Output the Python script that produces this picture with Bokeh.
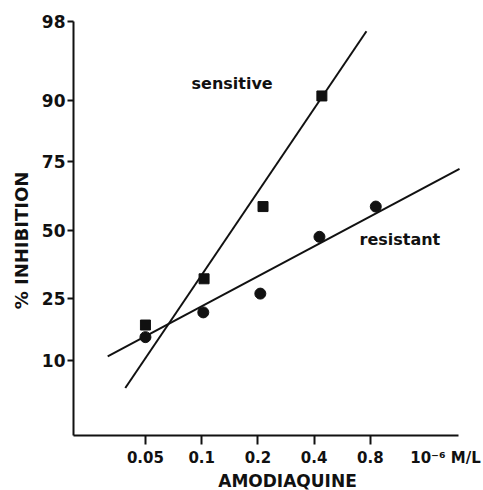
import math
from statistics import NormalDist
from bokeh.plotting import figure
from bokeh.models import FixedTicker, Range1d, Label
from bokeh.embed import file_html
from bokeh.resources import INLINE

# ---- data ----
dose_ticks = [0.05, 0.1, 0.2, 0.4, 0.8]
dose_tick_labels = ["0.05", "0.1", "0.2", "0.4", "0.8"]
pct_ticks = [10, 25, 50, 75, 90, 98]
pct_tick_labels = ["10", "25", "50", "75", "90", "98"]

sens_dose = [0.05, 0.103, 0.213, 0.44]
sens_pct = [17.5, 31.6, 59.2, 90.7]
res_dose = [0.05, 0.102, 0.206, 0.427, 0.855]
res_pct = [14.6, 20.9, 26.6, 47.4, 59.2]

sens_fit_dose = [0.039, 0.762]
sens_fit_pct = [6.0, 97.5]
res_fit_dose = [0.0314, 2.40]
res_fit_pct = [10.7, 72.7]

# ---- probit transform for the y scale ----
_nd = NormalDist()
def probit(p):
    return _nd.inv_cdf(p / 100.0)

# axis box: dose X0..X1, probit Y0..Y1
X0, X1 = 0.0206, 2.37
Y0, Y1 = -2.023, 2.066

# picture pixels of the axis box
FL, FR, FT, FB = 73, 458, 20, 435
W, H = 483, 490

def dx(px):
    return 10 ** (math.log10(X0) + (px - FL) / (FR - FL) * (math.log10(X1) - math.log10(X0)))

def dy(py):
    return Y1 - (py - FT) / (FB - FT) * (Y1 - Y0)

p = figure(width=W, height=H, x_axis_type="log",
           x_range=Range1d(dx(0), dx(W)), y_range=Range1d(dy(H), dy(0)),
           output_backend="svg", toolbar_location=None,
           min_border_left=0, min_border_right=0,
           min_border_top=0, min_border_bottom=0)
p.outline_line_color = None
p.xgrid.visible = False
p.ygrid.visible = False
p.background_fill_color = "white"
p.border_fill_color = "white"

ink = "#111111"
FONT = "DejaVu Sans"

# x axis
p.xaxis.ticker = FixedTicker(ticks=dose_ticks)
p.xaxis.major_label_overrides = dict(zip(dose_ticks, dose_tick_labels))
p.xaxis.minor_tick_line_color = None
p.xaxis.major_tick_out = 9
p.xaxis.major_tick_in = 0
p.xaxis.major_label_standoff = 6
p.xaxis.major_label_text_font_size = "15px"
p.xaxis.fixed_location = Y0
p.xaxis.bounds = (X0, X1)

# y axis
yt = [probit(v) for v in pct_ticks]
p.yaxis.ticker = FixedTicker(ticks=yt)
p.yaxis.major_label_overrides = dict(zip(yt, pct_tick_labels))
p.yaxis.minor_tick_line_color = None
p.yaxis.major_tick_out = 6
p.yaxis.major_tick_in = 0
p.yaxis.major_label_standoff = 2
p.yaxis.major_label_text_font_size = "17px"
p.yaxis.fixed_location = X0
p.yaxis.bounds = (Y0, probit(98))

for ax in (p.xaxis, p.yaxis):
    ax.axis_line_width = 2
    ax.axis_line_color = ink
    ax.major_tick_line_width = 2
    ax.major_tick_line_color = ink
    ax.major_label_text_font = FONT
    ax.major_label_text_font_style = "bold"
    ax.major_label_text_color = ink

# fitted lines
p.line(sens_fit_dose, [probit(v) for v in sens_fit_pct], line_color=ink, line_width=2)
p.line(res_fit_dose, [probit(v) for v in res_fit_pct], line_color=ink, line_width=2)

# points
p.scatter(sens_dose, [probit(v) for v in sens_pct], marker="square", size=10,
          fill_color=ink, line_color=ink)
p.scatter(res_dose, [probit(v) for v in res_pct], marker="circle", size=11,
          fill_color=ink, line_color=ink)

def lab(text, px, py, size, align="left", baseline="alphabetic", angle=0.0):
    p.add_layout(Label(x=dx(px), y=dy(py), text=text, text_font=FONT,
                       text_font_style="bold", text_font_size=size,
                       text_color=ink, text_align=align,
                       text_baseline=baseline, angle=angle))

lab("sensitive", 191, 83, "16px")
lab("resistant", 359, 239, "16px")
lab("10\u207b\u2076 M/L", 445, 457, "15px", align="center")
lab("AMODIAQUINE", 287, 480, "17px", align="center")
lab("% INHIBITION", 20.5, 240, "18px", align="center", angle=math.pi / 2)

open("out.html", "w").write(file_html(p, INLINE))
